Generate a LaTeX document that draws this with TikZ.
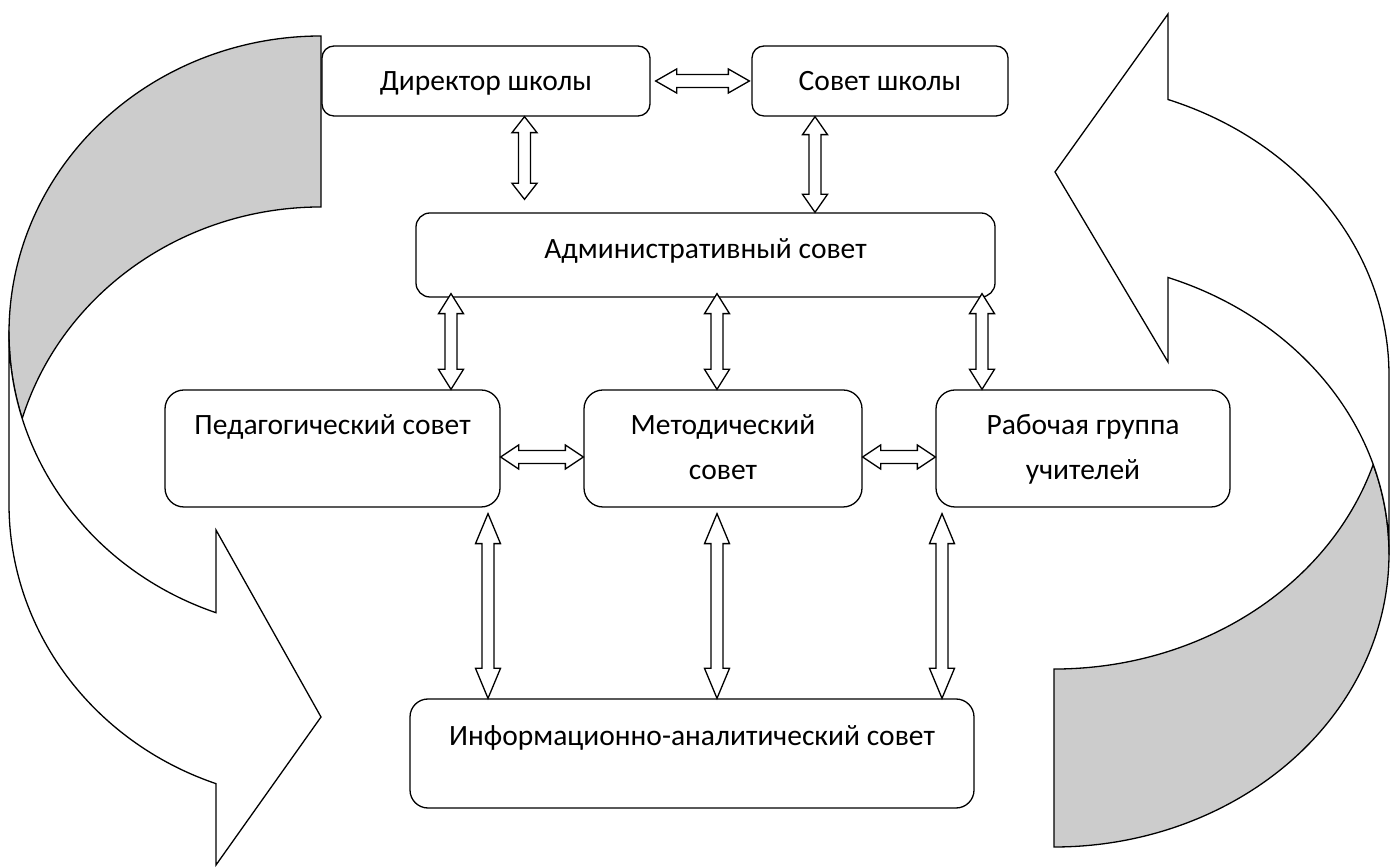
\documentclass[tikz,border=0pt]{standalone}
\usepackage{fontspec}
\setmainfont{Carlito}
\usetikzlibrary{calc}
\definecolor{bandgray}{RGB}{204,204,204}
\tikzset{
  box/.style={draw, line width=1.3pt, fill=white, inner sep=0pt},
  lbl/.style={anchor=base, inner sep=0pt, font=\fontsize{29.5}{42}\selectfont},
  dbl/.style={draw, line width=1.3pt, fill=white, line join=miter},
  band/.style={draw, line width=1.3pt, line join=miter},
}
\newcommand{\vdarr}[3]{%
  \draw[dbl] (#1) -- ++(12.5,-#3) -- ++(-6.5,0) -- ($(#2)+(6,#3)$) -- ++(6.5,0) -- (#2)
    -- ++(-12.5,#3) -- ++(6.5,0) -- ($(#1)+(-6,-#3)$) -- ++(-6.5,0) -- cycle;}
\newcommand{\hdarr}[3]{%
  \draw[dbl] (#1) -- ++(#3,12) -- ++(0,-5.5) -- ($(#2)+(-#3,6.5)$) -- ++(0,5.5) -- (#2)
    -- ++(-#3,-12) -- ++(0,5.5) -- ($(#1)+(#3,-6.5)$) -- ++(0,-5.5) -- cycle;}
\begin{document}
\begin{tikzpicture}[x=1pt,y=1pt]
\useasboundingbox (0,0) rectangle (1391,867);
% left curved arrow
\draw[band, fill=bandgray] (321,831)
  arc[start angle=90, end angle=196.73, x radius=312pt, y radius=297pt]
  arc[start angle=163.27, end angle=90, x radius=312pt, y radius=297pt] -- cycle;
\draw[band, fill=white] (9,534) -- (9,363)
  arc[start angle=180, end angle=250.33, x radius=312pt, y radius=297pt]
  -- (216,2) -- (321,150) -- (216,337) -- (216,254.3)
  arc[start angle=250.33, end angle=180, x radius=312pt, y radius=297pt] -- cycle;
% right curved arrow
\draw[band, fill=bandgray] (1054,20)
  arc[start angle=270, end angle=377.65, x radius=335pt, y radius=293.5pt]
  arc[start angle=342.35, end angle=270, x radius=335pt, y radius=293.5pt] -- cycle;
\draw[band, fill=white] (1389,313.5) -- (1389,491.5)
  arc[start angle=0, end angle=70.1, x radius=335pt, y radius=293.5pt]
  -- (1168,853) -- (1055,695) -- (1168,505) -- (1168,589.5)
  arc[start angle=70.1, end angle=0, x radius=335pt, y radius=293.5pt] -- cycle;
% boxes
\node[box, rounded corners=12pt, minimum width=328pt, minimum height=70pt] (dir) at (486,786) {};
\node[box, rounded corners=12pt, minimum width=256pt, minimum height=70pt] (sov) at (880,786) {};
\node[box, rounded corners=14pt, minimum width=579pt, minimum height=84pt] (adm) at (705.5,612) {};
\node[box, rounded corners=19pt, minimum width=335pt, minimum height=117pt] (ped) at (332.5,418.5) {};
\node[box, rounded corners=19pt, minimum width=278pt, minimum height=117pt] (met) at (723,418.5) {};
\node[box, rounded corners=19pt, minimum width=294pt, minimum height=117pt] (rab) at (1083,418.5) {};
\node[box, rounded corners=18pt, minimum width=564pt, minimum height=109pt] (inf) at (692,113.5) {};
% texts
\node[lbl] (dirT) at (486,776) {Директор школы};
\node[lbl] (sovT) at (880,776) {Совет школы};
\node[lbl] (admT) at (705.5,608) {Административный совет};
\node[lbl] (pedT) at (332.5,432) {Педагогический совет};
\node[lbl] (metT1) at (723,432) {Методический};
\node[lbl] (metT2) at (723,387) {совет};
\node[lbl] (rabT1) at (1083,432) {Рабочая группа};
\node[lbl] (rabT2) at (1083,387) {учителей};
\node[lbl] (infT) at (692,121) {Информационно-аналитический совет};
% connector end points
\coordinate (a1t) at ($(dir.south)+(38.5,0)$);
\coordinate (a1b) at ($(adm.north)+(-181,13)$);
\coordinate (a2t) at ($(sov.south)+(-65,0)$);
\coordinate (a2b) at ($(adm.north)+(109.5,0)$);
\coordinate (a3l) at ($(dir.east)+(5,0)$);
\coordinate (a3r) at ($(sov.west)+(-2,0)$);
\coordinate (a4t) at ($(adm.south)+(-254.5,4)$);
\coordinate (a4b) at ($(ped.north)+(118.5,0)$);
\coordinate (a5t) at ($(adm.south)+(11.5,4)$);
\coordinate (a5b) at ($(met.north)+(-6,0)$);
\coordinate (a6t) at ($(adm.south)+(276.5,4)$);
\coordinate (a6b) at ($(rab.north)+(-101,0)$);
\coordinate (a7l) at ($(ped.east)+(0,-8.5)$);
\coordinate (a7r) at ($(met.west)+(0,-8.5)$);
\coordinate (a8l) at ($(met.east)+(0,-8.5)$);
\coordinate (a8r) at ($(rab.west)+(0,-8.5)$);
\coordinate (a9t) at ($(ped.south)+(155.5,-6)$);
\coordinate (a9b) at ($(inf.north)+(-204,0)$);
\coordinate (a10t) at ($(met.south)+(-6,-6)$);
\coordinate (a10b) at ($(inf.north)+(25,0)$);
\coordinate (a11t) at ($(rab.south)+(-141,-6)$);
\coordinate (a11b) at ($(inf.north)+(250,0)$);
% double block arrows
\vdarr{a1t}{a1b}{16}
\vdarr{a2t}{a2b}{18}
\hdarr{a3l}{a3r}{21}
\vdarr{a4t}{a4b}{20}
\vdarr{a5t}{a5b}{20}
\vdarr{a6t}{a6b}{20}
\hdarr{a7l}{a7r}{18}
\hdarr{a8l}{a8r}{18}
\vdarr{a9t}{a9b}{30}
\vdarr{a10t}{a10b}{30}
\vdarr{a11t}{a11b}{30}
\end{tikzpicture}
\end{document}
